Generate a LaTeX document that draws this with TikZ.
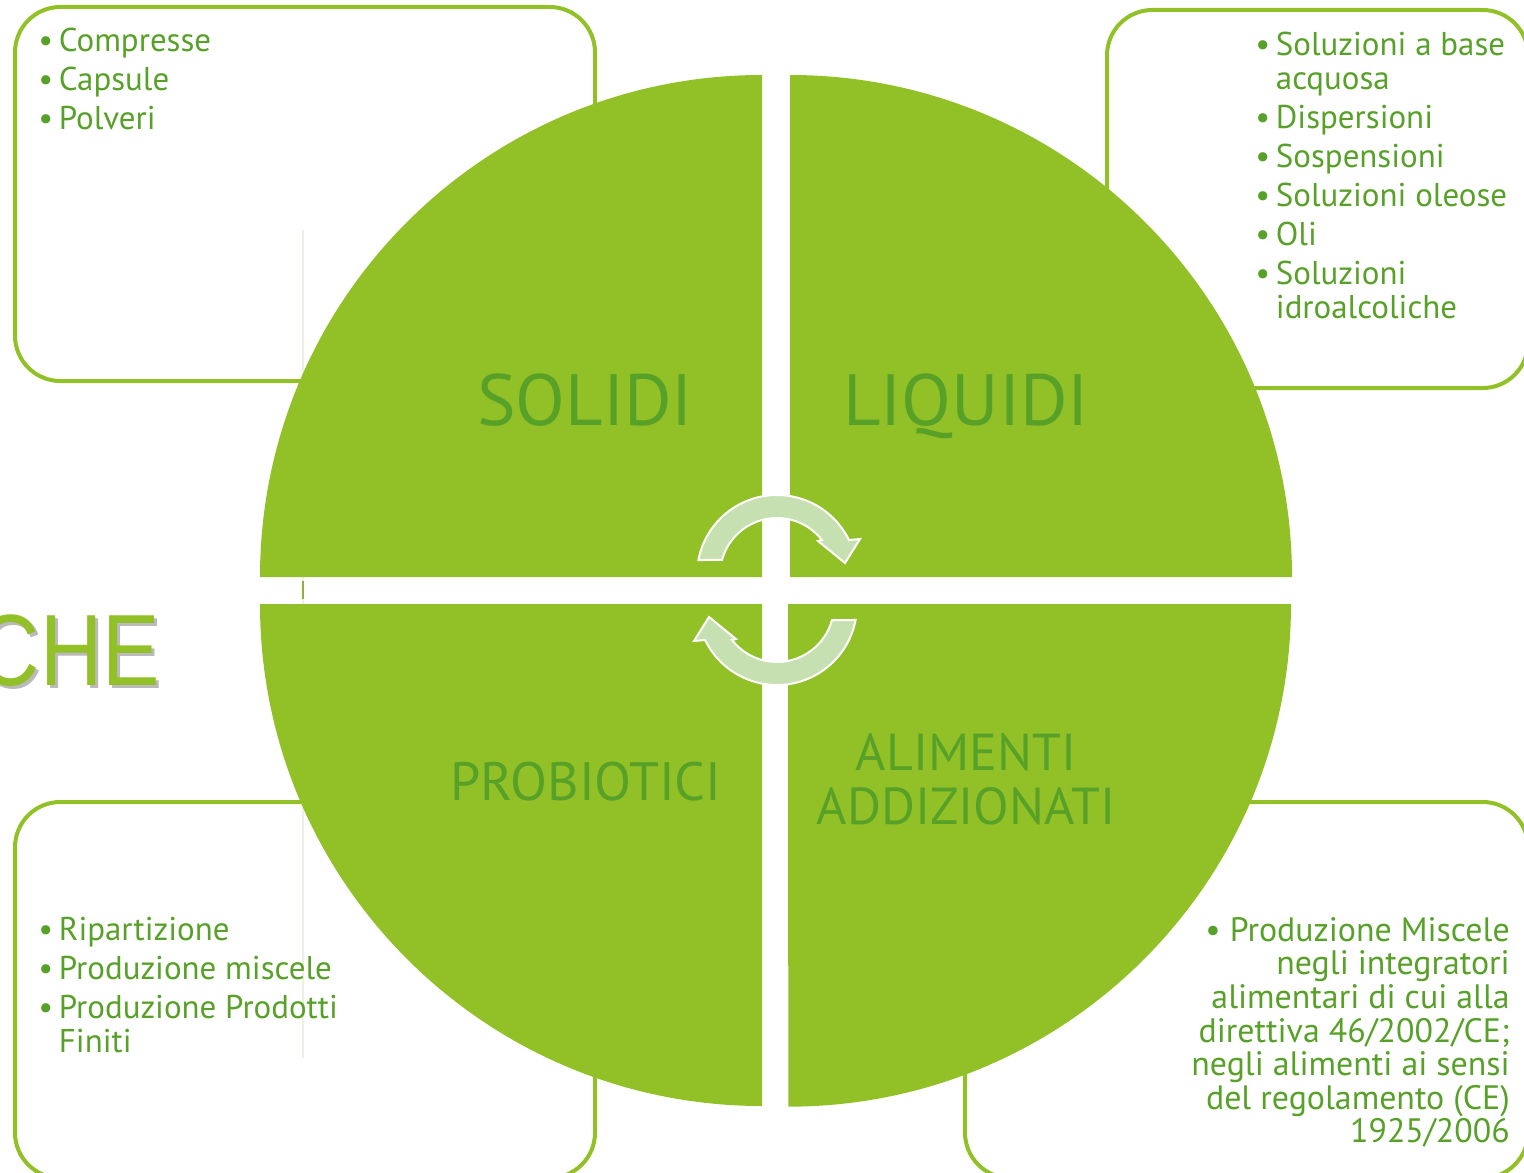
\documentclass[tikz,border=0pt]{standalone}
\usepackage{fontspec}
\usepackage{graphicx}
\setmainfont{PT Sans}
\newfontfamily\chefont{Liberation Sans}
\definecolor{cgreen}{RGB}{146,192,39}
\definecolor{tgreen}{RGB}{88,161,40}
\definecolor{arrfill}{RGB}{199,224,177}
\definecolor{faint}{RGB}{238,240,228}
\newcommand\itm{\makebox[15.5pt][l]{\textbullet}}
\newcommand\ind{\hspace*{15.5pt}}
\begin{document}
\begin{tikzpicture}[x=0.75pt,y=-0.75pt,
  box/.style={draw=cgreen, line width=3pt, fill=white, rounded corners=34pt},
  quad/.style={fill=cgreen},
  listtxt/.style={text=tgreen, inner sep=0pt, font=\fontsize{24.7}{25.5}\selectfont},
  brtxt/.style={text=tgreen, inner sep=0pt, align=right, font=\fontsize{25.4}{25.2}\selectfont},
  biglbl/.style={text=tgreen, inner sep=0pt, font=\fontsize{54.5}{54.5}\selectfont},
  midlbl/.style={text=tgreen, inner sep=0pt, font=\fontsize{40.5}{40.5}\selectfont},
  addlbl/.style={text=tgreen, inner sep=0pt, font=\fontsize{39}{40.5}\selectfont},
  cyc/.style={fill=arrfill, draw=white, line width=1.5pt, line join=miter}]
\useasboundingbox (0,0) rectangle (1524,1173);
\clip (0,0) rectangle (1524,1173);
% boxes
\draw[box] (15,7) rectangle (595,381);
\draw[box] (1107,10) rectangle (1528,388);
\draw[box] (15,802) rectangle (595,1178);
\draw[box] (965,802) rectangle (1528,1178);
% faint guide line
\draw[faint, line width=1.5pt] (303,230) -- (303,1058);
% circle quadrants
\fill[quad] (762,577) -- (260,577) arc[start angle=180, end angle=90, radius=376.5pt] -- cycle;
\fill[quad] (790,577) -- (790,75) arc[start angle=90, end angle=0, radius=376.5pt] -- cycle;
\fill[quad] (762,604) -- (260,604) arc[start angle=180, end angle=270, radius=376.5pt] -- cycle;
\fill[quad] (788,604) -- (1291,604) arc[start angle=0, end angle=-90, radius=377pt] -- cycle;
\draw[cgreen!80!gray, line width=1.5pt] (303,581) -- (303,599);
% cycle arrows
\path[cyc, shift={(777,575)}] (169.2:60pt) arc[start angle=169.2, end angle=25.9, radius=60pt]
  -- (62.25pt,27pt) -- (51pt,9pt) -- (30.75pt,25.5pt) -- (37.9:42.75pt)
  arc[start angle=37.9, end angle=164.7, radius=42.75pt] -- cycle;
\path[cyc, shift={(777,605)}, rotate=180] (169.2:60pt) arc[start angle=169.2, end angle=25.9, radius=60pt]
  -- (62.25pt,27pt) -- (51pt,9pt) -- (30.75pt,25.5pt) -- (37.9:42.75pt)
  arc[start angle=37.9, end angle=164.7, radius=42.75pt] -- cycle;
% labels
\node[biglbl, anchor=base] (solidi) at (585,425) {SOLIDI};
\node[biglbl, anchor=base] (liquidi) at (966,425) {LIQUIDI};
\node[midlbl, anchor=base] (probiotici) at (586,800) {PROBIOTICI};
\node[addlbl, align=center, anchor=center] (alimenti) at (966,779) {ALIMENTI\\ADDIZIONATI};
% lists
\node[listtxt, align=left, anchor=north west] (ltl) at (38,28)
  {\itm Compresse\\[3.75pt]\itm Capsule\\[3.75pt]\itm Polveri};
\node[listtxt, align=left, anchor=north west] (ltr) at (1255,32)
  {\itm Soluzioni a base\\\ind acquosa\\[3.75pt]\itm Dispersioni\\[3.75pt]\itm Sospensioni\\[3.75pt]\itm Soluzioni oleose\\[3.75pt]\itm Oli\\[3.75pt]\itm Soluzioni\\\ind idroalcoliche};
\node[listtxt, align=left, anchor=north west] (lbl) at (38,917)
  {\itm Ripartizione\\[3.75pt]\itm Produzione miscele\\[3.75pt]\itm Produzione Prodotti\\\ind Finiti};
\node[brtxt, anchor=north east] (lbr) at (1510,917)
  {\textbullet\ Produzione Miscele\\negli integratori\\alimentari di cui alla\\direttiva 46/2002/CE;\\negli alimenti ai sensi\\del regolamento (CE)\\1925/2006};
% CHE title fragment
\node[anchor=base east, inner sep=0pt, text=black!45, opacity=0.6, font=\chefont\fontsize{76}{76}\selectfont] (cheshadow) at (163,688) {\scalebox{0.85}[1]{CHE}};
\node[anchor=base east, inner sep=0pt, text=cgreen, font=\chefont\fontsize{76}{76}\selectfont] (che) at (160,685) {\scalebox{0.85}[1]{CHE}};
\end{tikzpicture}
\end{document}
